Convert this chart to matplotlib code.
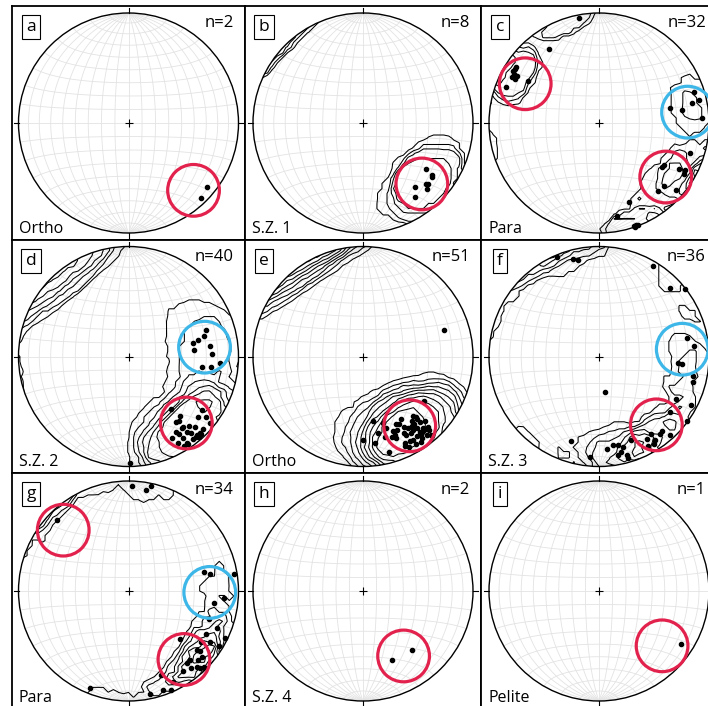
import matplotlib
matplotlib.use("Agg")
import matplotlib.pyplot as plt
from matplotlib.patches import Circle
import numpy as np

plt.rcParams['font.family'] = ['Open Sans', 'DejaVu Sans']

# pole orientations, lower hemisphere (trend / plunge in degrees)
a_trend = [129, 136]
a_plunge = [9, 6]

b_trend = [126, 127, 134, 136, 141, 145, 133, 128]
b_plunge = [30, 23, 21, 18, 26, 19, 20, 22]

c_trend = [326, 304, 301, 298, 298, 301, 291, 300, 303, 300, 349,
           72, 78, 81, 87, 78, 77,
           108, 123, 120, 119, 134, 139, 131, 121, 125,
           159, 169, 161, 161, 159, 160]
c_plunge = [20, 10, 10, 15, 11, 26, 10, 12, 10, 15, 3,
            10, 15, 25, 7, 34, 7,
            14, 30, 17, 12, 19, 19, 8, 11, 31,
            24, 15, 1, 0, 1, 1]

d_trend = [71, 75, 77, 78, 84, 83, 88, 94, 97, 98,
           141, 139, 126, 131, 128, 129, 144, 142, 142, 139,
           137, 143, 142, 141, 137, 134, 148, 147, 152, 146,
           142, 140, 139, 146, 148, 146, 150, 137, 139, 179]
d_plunge = [26, 30, 35, 40, 40, 26, 25, 18, 25, 33,
            38, 29, 19, 17, 11, 5, 27, 26, 20, 17,
            13, 20, 14, 11, 5, 6, 20, 17, 17, 12,
            5, 5, 3, 6, 5, 4, 10, 4, 6, 4]

e_trend = [126, 171, 169, 180, 172, 163, 162, 152, 158, 158,
           158, 165, 155, 153, 140, 139, 143, 139, 136, 137,
           138, 139, 141, 143, 146, 149, 146, 151, 151, 146,
           143, 140, 141, 150, 155, 148, 143, 143, 148, 152,
           160, 149, 139, 139, 154, 149, 144, 145, 154, 165, 72]
e_plunge = [32, 40, 30, 25, 22, 37, 32, 31, 28, 24,
            21, 11, 11, 8, 30, 26, 27, 22, 20, 14,
            11, 6, 9, 13, 14, 13, 7, 13, 20, 20,
            20, 16, 14, 27, 27, 24, 24, 15, 19, 22,
            23, 34, 28, 14, 14, 8, 9, 24, 32, 25, 24]

f_trend = [337, 345, 348, 31, 46, 52, 78, 84, 95, 95,
           102, 105, 119, 118, 128, 126, 138, 146, 146, 142,
           151, 150, 159, 165, 168, 171, 175, 169, 164, 164,
           185, 198, 171, 148, 140, 167]
f_plunge = [2, 9, 11, 5, 11, 1, 19, 14, 29, 25,
            14, 13, 21, 6, 19, 1, 4, 16, 9, 11,
            8, 14, 20, 16, 19, 20, 17, 10, 8, 4,
            9, 20, 63, 7, 12, 12]

g_trend = [2, 10, 12, 315, 76, 78, 81, 94, 98, 109,
           119, 125, 122, 121, 116, 133, 131, 130, 138, 138,
           141, 137, 135, 141, 146, 159, 154, 161, 157, 168,
           202, 113, 132, 135]
g_plunge = [5, 8, 3, 9, 30, 25, 3, 14, 23, 24,
            21, 21, 14, 4, 3, 36, 19, 16, 17, 8,
            11, 5, 3, 17, 13, 19, 9, 5, 2, 5,
            6, 14, 11, 12]

h_trend = [140, 157]
h_plunge = [31, 32]

i_trend = [123]
i_plunge = [12]

# highlighted clusters: (trend, plunge, colour key)
a_rings = [(136, 16, 'red')]
b_rings = [(136, 24, 'red')]
c_rings = [(298, 25, 'red'), (83, 20, 'blue'), (129, 23, 'red')]
d_rings = [(83, 31, 'blue'), (139, 21, 'red')]
e_rings = [(146, 25, 'red')]
f_rings = [(85, 25, 'blue'), (140, 20, 'red')]
g_rings = [(313, 20, 'red'), (91, 27, 'blue'), (141, 21, 'red')]
h_rings = [(148, 31, 'red')]
i_rings = [(131, 25, 'red')]

letters = ['a', 'b', 'c', 'd', 'e', 'f', 'g', 'h', 'i']
rock_labels = ['Ortho', 'S.Z. 1', 'Para', 'S.Z. 2', 'Ortho', 'S.Z. 3',
               'Para', 'S.Z. 4', 'Pelite']

# Kamb counting-circle radius (degrees) per net, None = no contours
panels = [
    (a_trend, a_plunge, a_rings, None),
    (b_trend, b_plunge, b_rings, 27),
    (c_trend, c_plunge, c_rings, 17),
    (d_trend, d_plunge, d_rings, 32),
    (e_trend, e_plunge, e_rings, 33),
    (f_trend, f_plunge, f_rings, 20),
    (g_trend, g_plunge, g_rings, 15),
    (h_trend, h_plunge, h_rings, None),
    (i_trend, i_plunge, i_rings, None),
]

RING_COLORS = {'red': '#e2224c', 'blue': '#3db6e8'}
GRID_COLOR = '#e3e3e3'
R_PX = 110.0
W, H = 708, 706
col_x = [12, 245, 481]
col_w = [233, 236, 236]
row_y = [6, 240, 473]
row_h = [234, 233, 236]


def to_xyz(trend, plunge):
    t = np.radians(np.asarray(trend, float))
    p = np.radians(np.asarray(plunge, float))
    return np.cos(p) * np.sin(t), np.cos(p) * np.cos(t), np.sin(p)


def project(e, n, d):
    # Schmidt (equal-area) projection, unit radius primitive
    s = np.sqrt(1 + d)
    return e / s, n / s


def draw_net(ax):
    t = np.radians(np.linspace(0, 180, 121))
    for dip in range(10, 180, 10):
        dl = np.radians(dip)
        x, y = project(np.sin(t) * np.cos(dl), np.cos(t), np.sin(t) * np.sin(dl))
        ax.plot(x, y, color=GRID_COLOR, lw=0.6, zorder=1)
    for lat in range(-80, 90, 10):
        la = np.radians(lat)
        x, y = project(np.cos(la) * np.cos(t), np.full_like(t, np.sin(la)),
                       np.cos(la) * np.sin(t))
        ax.plot(x, y, color=GRID_COLOR, lw=0.6, zorder=1)
    ax.add_patch(Circle((0, 0), 1, fill=False, ec='black', lw=1.0, zorder=4))
    for dx, dy in [(0, 1), (0, -1), (1, 0), (-1, 0)]:
        ax.plot([dx, dx * 1.045], [dy, dy * 1.045], color='black', lw=0.8, zorder=4)
    ax.plot(0, 0, marker='+', ms=6, mew=0.8, color='black', zorder=4)


def kamb_grid(trend, plunge, radius_deg):
    # counts inside a small circle at each node, in units of sigma
    pe, pn, pd = to_xyz(trend, plunge)
    pts = np.column_stack([pe, pn, pd])
    g = np.linspace(-1.1, 1.1, 49)
    X, Y = np.meshgrid(g, g)
    r = np.hypot(X, Y)
    scale = np.where(r > 1, 1 / np.maximum(r, 1e-9), 1.0)
    Xc, Yc = X * scale, Y * scale
    rc2 = Xc ** 2 + Yc ** 2
    k = np.sqrt(2 - rc2)
    nodes = np.stack([Xc * k, Yc * k, 1 - rc2], axis=-1)
    cosd = np.abs(nodes @ pts.T)
    cos_r = np.cos(np.radians(radius_deg))
    counts = (cosd >= cos_r).sum(axis=-1).astype(float)
    n = len(trend)
    area = 1 - cos_r
    sigma = np.sqrt(n * area * (1 - area))
    return X, Y, counts / sigma


fig = plt.figure(figsize=(W / 100, H / 100), dpi=100)

for idx, (trend, plunge, rings, radius) in enumerate(panels):
    row, col = divmod(idx, 3)
    x0, w = col_x[col], col_w[col]
    y0, h = row_y[row], row_h[row]
    ax = fig.add_axes([x0 / W, 1 - (y0 + h) / H, w / W, h / H])
    ax.set_xlim(-w / 2 / R_PX, w / 2 / R_PX)
    ax.set_ylim(-h / 2 / R_PX, h / 2 / R_PX)
    ax.set_xticks([])
    ax.set_yticks([])
    for sp in ax.spines.values():
        sp.set_linewidth(1.3)

    draw_net(ax)

    if radius is not None:
        X, Y, dens = kamb_grid(trend, plunge, radius)
        levels = np.arange(2, dens.max() + 1e-9, 2)
        cs = ax.contour(X, Y, dens, levels=levels, colors='black',
                        linewidths=0.75, zorder=2)
        cs.set_clip_path(Circle((0, 0), 1, transform=ax.transData))

    x, y = project(*to_xyz(trend, plunge))
    ax.plot(x, y, 'o', ms=3.0, color='black', zorder=5)

    for rt, rp, key in rings:
        cx, cy = project(*to_xyz(rt, rp))
        ax.add_patch(Circle((cx, cy), 0.235, fill=False, ec=RING_COLORS[key],
                            lw=2.3, zorder=6, clip_on=False))

    ax.text(19 / w, 1 - 21 / h, letters[idx], transform=ax.transAxes,
            ha='center', va='center', fontsize=12.5, zorder=7,
            bbox=dict(boxstyle='square,pad=0.25', fc='white', ec='black', lw=0.8))
    ax.text(1 - 11 / w, 1 - 17 / h, f"n={len(trend)}", transform=ax.transAxes,
            ha='right', va='center', fontsize=12, zorder=7)
    ax.text(7 / w, 7 / h, rock_labels[idx], transform=ax.transAxes,
            ha='left', va='baseline', fontsize=11.5, zorder=7)

fig.savefig('out.png', dpi=100)
